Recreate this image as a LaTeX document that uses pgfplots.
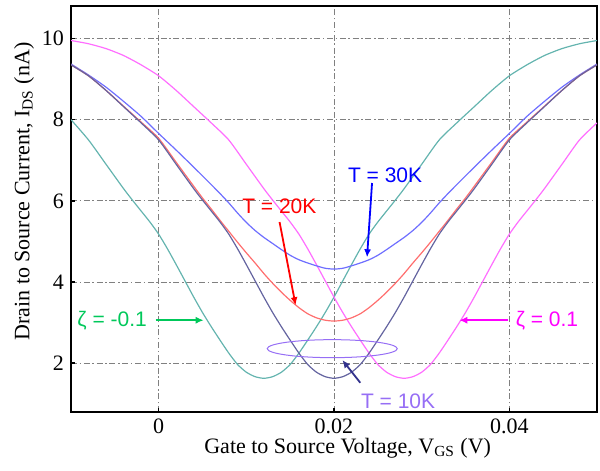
\documentclass[border=0pt]{standalone}
\usepackage{fontspec}
\setmainfont{Liberation Serif}
\newfontfamily\arial{Liberation Sans}
\usepackage{pgfplots}
\pgfplotsset{compat=1.18}
\usetikzlibrary{arrows.meta}

\definecolor{cteal}{RGB}{100,180,175}
\definecolor{c10}{RGB}{100,100,160}
\definecolor{c20}{RGB}{255,110,110}
\definecolor{c30}{RGB}{110,110,255}
\definecolor{cmag}{RGB}{255,110,255}
\definecolor{zgreen}{RGB}{0,200,90}
\definecolor{zmag}{RGB}{255,0,255}
\definecolor{lav}{RGB}{150,110,245}
\definecolor{navy10}{RGB}{50,50,140}
\definecolor{gridgray}{RGB}{128,128,128}

\begin{document}
\begin{tikzpicture}
\begin{axis}[
    scale only axis,
    width=263bp, height=203bp,
    xmin=-0.01, xmax=0.05,
    ymin=0.8, ymax=10.8,
    xtick={0,0.02,0.04},
    xticklabels={0,0.02,0.04},
    ytick={2,4,6,8,10},
    yticklabels={2,4,6,8,10},
    scaled x ticks=false,
    /pgf/number format/assume math mode=true,
    tick pos=left,
    tick align=inside,
    major tick length=2.2bp,
    tick style={black, line width=0.8bp},
    axis line style={black, line width=1bp},
    grid=major,
    major grid style={gridgray, line width=0.5bp,
        dash pattern=on 3bp off 1.3bp on 0.8bp off 1.3bp},
    ticklabel style={font=\rmfamily\fontsize{11bp}{12bp}\selectfont},
    xlabel={Gate to Source Voltage, V\textsubscript{GS} (V)},
    ylabel={Drain to Source Current, I\textsubscript{DS} (nA)},
    label style={font=\rmfamily\fontsize{11bp}{12bp}\selectfont},
    xlabel style={at={(axis description cs:0.526,-0.0887)}, anchor=center},
    ylabel style={at={(axis description cs:-0.0894,0.543)}, anchor=center},
    every axis plot/.append style={line width=0.6bp, mark=none, smooth, tension=0.4},
]

% zeta = -0.1
\addplot[cteal] coordinates {
(-0.010,8.0) (-0.008,7.5) (-0.006,6.9) (-0.004,6.3) (-0.003,6.02) (-0.002,5.75)
(-0.001,5.48) (0.000,5.18) (0.001,4.82) (0.002,4.43) (0.003,4.03) (0.004,3.63)
(0.005,3.25) (0.006,2.9) (0.007,2.57) (0.008,2.25) (0.009,1.97) (0.010,1.78)
(0.011,1.67) (0.012,1.63) (0.013,1.67) (0.014,1.78) (0.015,1.97) (0.016,2.25)
(0.017,2.57) (0.018,2.9) (0.019,3.25) (0.020,3.63) (0.021,4.03) (0.022,4.43)
(0.023,4.82) (0.024,5.18) (0.025,5.48) (0.026,5.75) (0.027,6.02) (0.028,6.3)
(0.030,6.9) (0.032,7.5) (0.034,7.92) (0.036,8.32) (0.038,8.72) (0.040,9.08)
(0.042,9.35) (0.044,9.58) (0.046,9.75) (0.048,9.87) (0.050,9.95)
};

% zeta = 0.1
\addplot[cmag] coordinates {
(-0.010,9.95) (-0.008,9.87) (-0.006,9.75) (-0.004,9.58) (-0.002,9.35) (0.000,9.08)
(0.002,8.72) (0.004,8.32) (0.006,7.92) (0.008,7.5) (0.010,6.9) (0.012,6.3)
(0.013,6.02) (0.014,5.75) (0.015,5.48) (0.016,5.18) (0.017,4.82) (0.018,4.43)
(0.019,4.03) (0.020,3.63) (0.021,3.25) (0.022,2.9) (0.023,2.57) (0.024,2.25)
(0.025,1.97) (0.026,1.78) (0.027,1.67) (0.028,1.63) (0.029,1.67) (0.030,1.78)
(0.031,1.97) (0.032,2.25) (0.033,2.57) (0.034,2.9) (0.035,3.25) (0.036,3.63)
(0.037,4.03) (0.038,4.43) (0.039,4.82) (0.040,5.18) (0.041,5.48) (0.042,5.75)
(0.043,6.02) (0.044,6.3) (0.046,6.9) (0.048,7.5) (0.050,7.92)
};

% T = 30K
\addplot[c30] coordinates {
(-0.010,9.37) (-0.008,9.1) (-0.006,8.8) (-0.004,8.45) (-0.002,8.08) (0.000,7.66)
(0.002,7.25) (0.004,6.83) (0.006,6.4) (0.007,6.18) (0.008,5.95) (0.009,5.7)
(0.010,5.47) (0.011,5.27) (0.012,5.1) (0.013,4.95) (0.014,4.8) (0.015,4.66)
(0.016,4.55) (0.017,4.47) (0.018,4.4) (0.019,4.34) (0.020,4.32) (0.021,4.34)
(0.022,4.4) (0.023,4.47) (0.024,4.55) (0.025,4.66) (0.026,4.8) (0.027,4.95)
(0.028,5.1) (0.029,5.27) (0.030,5.47) (0.031,5.7) (0.032,5.95) (0.033,6.18)
(0.034,6.4) (0.036,6.83) (0.038,7.25) (0.040,7.66) (0.042,8.08) (0.044,8.45)
(0.046,8.8) (0.048,9.1) (0.050,9.37)
};

% T = 20K
\addplot[c20] coordinates {
(-0.010,9.35) (-0.008,9.08) (-0.006,8.72) (-0.004,8.33) (-0.002,7.94) (0.000,7.54)
(0.002,6.95) (0.004,6.36) (0.005,6.07) (0.006,5.8) (0.007,5.52) (0.008,5.25)
(0.009,4.98) (0.010,4.72) (0.011,4.47) (0.012,4.21) (0.013,3.97) (0.014,3.75)
(0.015,3.55) (0.016,3.37) (0.017,3.22) (0.018,3.12) (0.019,3.06) (0.020,3.04)
(0.021,3.06) (0.022,3.12) (0.023,3.22) (0.024,3.37) (0.025,3.55) (0.026,3.75)
(0.027,3.97) (0.028,4.21) (0.029,4.47) (0.030,4.72) (0.031,4.98) (0.032,5.25)
(0.033,5.52) (0.034,5.8) (0.035,6.07) (0.036,6.36) (0.038,6.95) (0.040,7.54)
(0.042,7.94) (0.044,8.33) (0.046,8.72) (0.048,9.08) (0.050,9.35)
};

% T = 10K
\addplot[c10] coordinates {
(-0.010,9.35) (-0.008,9.08) (-0.006,8.72) (-0.004,8.32) (-0.002,7.92) (0.000,7.5)
(0.002,6.9) (0.004,6.3) (0.005,6.02) (0.006,5.75) (0.007,5.48) (0.008,5.18)
(0.009,4.82) (0.010,4.43) (0.011,4.03) (0.012,3.63) (0.013,3.25) (0.014,2.9)
(0.015,2.57) (0.016,2.25) (0.017,1.97) (0.018,1.78) (0.019,1.67) (0.020,1.63)
(0.021,1.67) (0.022,1.78) (0.023,1.97) (0.024,2.25) (0.025,2.57) (0.026,2.9)
(0.027,3.25) (0.028,3.63) (0.029,4.03) (0.030,4.43) (0.031,4.82) (0.032,5.18)
(0.033,5.48) (0.034,5.75) (0.035,6.02) (0.036,6.3) (0.038,6.9) (0.040,7.5)
(0.042,7.92) (0.044,8.32) (0.046,8.72) (0.048,9.08) (0.050,9.35)
};

% annotations
\node[font=\arial\fontsize{10.5bp}{12bp}\selectfont, text=blue] at (axis cs:0.02583,6.63) {T = 30K};
\draw[blue, line width=0.9bp, -{Latex[length=4bp,width=3.5bp]}] (axis cs:0.02434,6.44) -- (axis cs:0.02377,4.61);

\node[font=\arial\fontsize{10.5bp}{12bp}\selectfont, text=red] at (axis cs:0.01377,5.87) {T = 20K};
\draw[red, line width=0.9bp, -{Latex[length=4bp,width=3.5bp]}] (axis cs:0.01379,5.48) -- (axis cs:0.01562,3.43);

\node[font=\arial\fontsize{10.5bp}{12bp}\selectfont, text=zgreen] at (axis cs:-0.00531,3.06) {ζ = -0.1};
\draw[zgreen, line width=0.9bp, -{Latex[length=4bp,width=3.5bp]}] (axis cs:-0.00034,3.06) -- (axis cs:0.00514,3.06);

\node[font=\arial\fontsize{10.5bp}{12bp}\selectfont, text=zmag] at (axis cs:0.04429,3.06) {ζ = 0.1};
\draw[zmag, line width=0.9bp, -{Latex[length=4bp,width=3.5bp]}] (axis cs:0.03989,3.06) -- (axis cs:0.03429,3.06);

\draw[lav, line width=0.5bp] (axis cs:0.0198,2.36) ellipse [x radius=32.5bp, y radius=4.5bp];
\node[font=\arial\fontsize{10.5bp}{12bp}\selectfont, text=lav] at (axis cs:0.02731,1.07) {T = 10K};
\draw[navy10, line width=0.9bp, -{Latex[length=4bp,width=3.5bp]}] (axis cs:0.0230,1.52) -- (axis cs:0.02095,2.08);

\end{axis}
\pgfresetboundingbox
\path ([xshift=-35.5bp,yshift=-29.5bp]current axis.south west) rectangle ([xshift=1.5bp,yshift=3bp]current axis.north east);
\end{tikzpicture}
\end{document}
